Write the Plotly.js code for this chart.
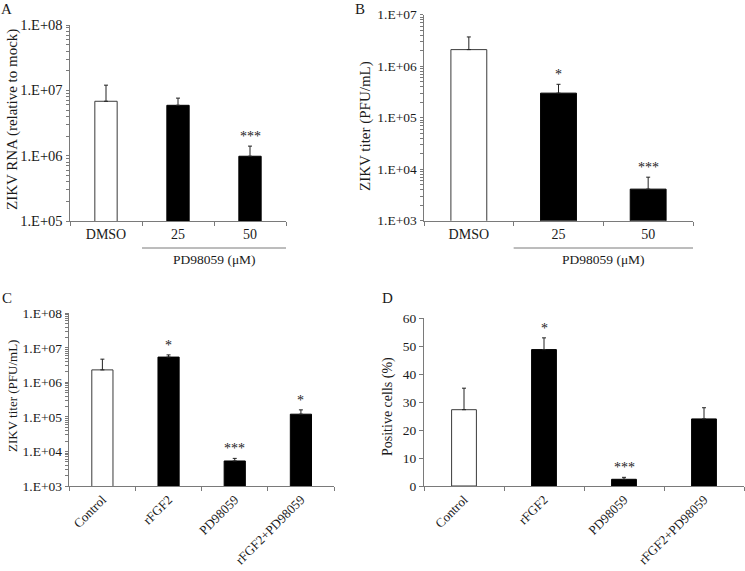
<!DOCTYPE html>
<html>
<head>
<meta charset="utf-8">
<script src="https://cdn.plot.ly/plotly-3.0.1.min.js"></script>
<style>html,body{margin:0;padding:0;background:#fff;}#chart{width:745px;height:571px;}</style>
</head>
<body>
<div id="chart"></div>
<script>
// ---- data ----
const catsAB = ['DMSO', '25', '50'];
const rnaA = [6.8e6, 5.9e6, 9.8e5];
const rnaAErr = [5.2e6, 1.7e6, 4.2e5];
const sigA = ['', '', '***'];

const titerB = [2.1e6, 3.0e5, 4.1e3];
const titerBErr = [1.6e6, 1.45e5, 2.9e3];
const sigB = ['', '*', '***'];

const catsCD = ['Control', 'rFGF2', 'PD98059', 'rFGF2+PD98059'];
const titerC = [2.3e6, 5.4e6, 5.3e3, 1.2e5];
const titerCErr = [2.4e6, 0.85e6, 1.0e3, 4.0e4];
const sigC = ['', '*', '***', '*'];

const posD = [27.3, 48.8, 2.4, 24.0];
const posDErr = [7.7, 4.2, 0.7, 4.0];
const sigD = ['', '*', '***', ''];

const logTicksA = [1e5, 1e6, 1e7, 1e8];
const logTextA = ['1.E+05', '1.E+06', '1.E+07', '1.E+08'];
const logTicksB = [1e3, 1e4, 1e5, 1e6, 1e7];
const logTextB = ['1.E+03', '1.E+04', '1.E+05', '1.E+06', '1.E+07'];
const logTicksC = [1e3, 1e4, 1e5, 1e6, 1e7, 1e8];
const logTextC = ['1.E+03', '1.E+04', '1.E+05', '1.E+06', '1.E+07', '1.E+08'];

// ---- helpers ----
const W = 745, H = 571;
const px = v => v / W;
const py = v => 1 - v / H;
const FONT = 'Liberation Serif, Times New Roman, serif';
const AX = '#7a7a7a';
const TXT = '#1a1a1a';

function barTrace(cats, vals, errs, xa, ya, w) {
  return {
    type: 'bar', x: cats, y: vals, xaxis: xa, yaxis: ya, width: w,
    marker: {
      color: cats.map((c, i) => i === 0 ? '#ffffff' : '#000000'),
      line: {color: cats.map((c, i) => i === 0 ? '#3a3a3a' : '#000000'), width: 1}
    },
    error_y: {type: 'data', symmetric: false, array: errs, arrayminus: errs.map(() => 0),
      color: '#222', thickness: 1, width: 2},
    showlegend: false, hoverinfo: 'skip'
  };
}

function starAnns(cats, vals, errs, sig, xref, yref, isLog) {
  const out = [];
  cats.forEach((c, i) => {
    if (!sig[i]) return;
    const top = vals[i] + errs[i];
    out.push({x: i, y: isLog ? Math.log10(top) : top, xref: xref, yref: yref,
      text: sig[i], showarrow: false, yanchor: 'bottom', xanchor: 'center', yshift: 0,
      font: {family: FONT, size: 14, color: TXT}});
  });
  return out;
}

// minor tick positions (2..9 within each decade of the axis range)
function minorLogTicks(range) {
  const out = [];
  for (let d = range[0]; d < range[1]; d++) {
    for (let k = 2; k <= 9; k++) out.push(k * Math.pow(10, d));
  }
  return out;
}

function catAxis(dom, anchor, size, angle, cats) {
  return {domain: dom, anchor: anchor, type: 'category', categoryorder: 'array', categoryarray: cats,
    range: [-0.5, cats.length - 0.5], autorange: false,
    showline: true, linecolor: AX, linewidth: 1,
    ticks: 'outside', tickson: 'boundaries', ticklen: 4, tickcolor: AX, tickwidth: 1,
    showgrid: false, zeroline: false, tickangle: angle, fixedrange: true,
    tickfont: {family: FONT, size: size, color: TXT}};
}
function logAxis(dom, anchor, range, vals, text, size) {
  const mv = minorLogTicks(range);
  return {domain: dom, anchor: anchor, type: 'log', range: range, autorange: false,
    showline: true, linecolor: AX, linewidth: 1,
    ticks: 'outside', ticklen: 3.5, tickcolor: AX, tickwidth: 1, tickmode: 'array',
    tickvals: vals.concat(mv), ticktext: text.concat(mv.map(() => '')),
    showgrid: false, zeroline: false, fixedrange: true,
    tickfont: {family: FONT, size: size, color: TXT}};
}

const data = [
  barTrace(catsAB, rnaA, rnaAErr, 'x', 'y', 0.31),
  barTrace(catsAB, titerB, titerBErr, 'x2', 'y2', 0.4),
  barTrace(catsCD, titerC, titerCErr, 'x3', 'y3', 0.32),
  barTrace(catsCD, posD, posDErr, 'x4', 'y4', 0.31)
];

const annotations = [
  {text: 'A', x: px(7), y: py(9), xref: 'paper', yref: 'paper', showarrow: false, xanchor: 'center', yanchor: 'middle', font: {family: FONT, size: 15, color: TXT}},
  {text: 'B', x: px(360), y: py(9), xref: 'paper', yref: 'paper', showarrow: false, xanchor: 'center', yanchor: 'middle', font: {family: FONT, size: 15, color: TXT}},
  {text: 'C', x: px(7), y: py(298), xref: 'paper', yref: 'paper', showarrow: false, xanchor: 'center', yanchor: 'middle', font: {family: FONT, size: 15, color: TXT}},
  {text: 'D', x: px(388), y: py(298), xref: 'paper', yref: 'paper', showarrow: false, xanchor: 'center', yanchor: 'middle', font: {family: FONT, size: 15, color: TXT}},
  {text: 'ZIKV RNA (relative to mock)', x: px(13), y: py(120), xref: 'paper', yref: 'paper', textangle: -90, showarrow: false, xanchor: 'center', yanchor: 'middle', font: {family: FONT, size: 15, color: TXT}},
  {text: 'ZIKV titer (PFU/mL)', x: px(365), y: py(126), xref: 'paper', yref: 'paper', textangle: -90, showarrow: false, xanchor: 'center', yanchor: 'middle', font: {family: FONT, size: 15, color: TXT}},
  {text: 'ZIKV titer (PFU/mL)', x: px(12), y: py(396), xref: 'paper', yref: 'paper', textangle: -90, showarrow: false, xanchor: 'center', yanchor: 'middle', font: {family: FONT, size: 13, color: TXT}},
  {text: 'Positive cells (%)', x: px(388), y: py(406), xref: 'paper', yref: 'paper', textangle: -90, showarrow: false, xanchor: 'center', yanchor: 'middle', font: {family: FONT, size: 14, color: TXT}},
  {text: 'PD98059 (μM)', x: 1.5, y: py(260), xref: 'x', yref: 'paper', showarrow: false, xanchor: 'center', yanchor: 'middle', font: {family: FONT, size: 13.5, color: TXT}},
  {text: 'PD98059 (μM)', x: 1.5, y: py(260), xref: 'x2', yref: 'paper', showarrow: false, xanchor: 'center', yanchor: 'middle', font: {family: FONT, size: 13.5, color: TXT}}
].concat(
  starAnns(catsAB, rnaA, rnaAErr, sigA, 'x', 'y', true),
  starAnns(catsAB, titerB, titerBErr, sigB, 'x2', 'y2', true),
  starAnns(catsCD, titerC, titerCErr, sigC, 'x3', 'y3', true),
  starAnns(catsCD, posD, posDErr, sigD, 'x4', 'y4', false)
);

const shapes = [
  {type: 'line', xref: 'x', yref: 'paper', x0: 0.5, x1: 2.5, y0: py(248), y1: py(248), line: {color: AX, width: 1}},
  {type: 'line', xref: 'x2', yref: 'paper', x0: 0.5, x1: 2.5, y0: py(248), y1: py(248), line: {color: AX, width: 1}}
];

const layout = {
  width: W, height: H, margin: {l: 0, r: 0, t: 0, b: 0},
  paper_bgcolor: '#fff', plot_bgcolor: 'rgba(0,0,0,0)', showlegend: false,
  font: {family: FONT, color: TXT},
  xaxis: catAxis([px(70), px(286)], 'y', 14, 0, catsAB),
  yaxis: logAxis([py(221), py(25)], 'x', [5, 8], logTicksA, logTextA, 14.5),
  xaxis2: catAxis([px(424), px(693)], 'y2', 14, 0, catsAB),
  yaxis2: logAxis([py(220.7), py(14.7)], 'x2', [3, 7], logTicksB, logTextB, 13.5),
  xaxis3: catAxis([px(69.3), px(334)], 'y3', 13, -45, catsCD),
  yaxis3: logAxis([py(486), py(313.3)], 'x3', [3, 8], logTicksC, logTextC, 13.5),
  xaxis4: catAxis([px(424), px(744)], 'y4', 13, -45, catsCD),
  yaxis4: {domain: [py(486), py(318.3)], anchor: 'x4', range: [0, 60], autorange: false, dtick: 10, showline: true, linecolor: AX, linewidth: 1,
    ticks: 'outside', ticklen: 4, tickcolor: AX, showgrid: false, zeroline: false, fixedrange: true,
    tickfont: {family: FONT, size: 13.5, color: TXT}},
  annotations: annotations,
  shapes: shapes
};

Plotly.newPlot('chart', data, layout, {staticPlot: true, displayModeBar: false});
</script>
</body>
</html>
